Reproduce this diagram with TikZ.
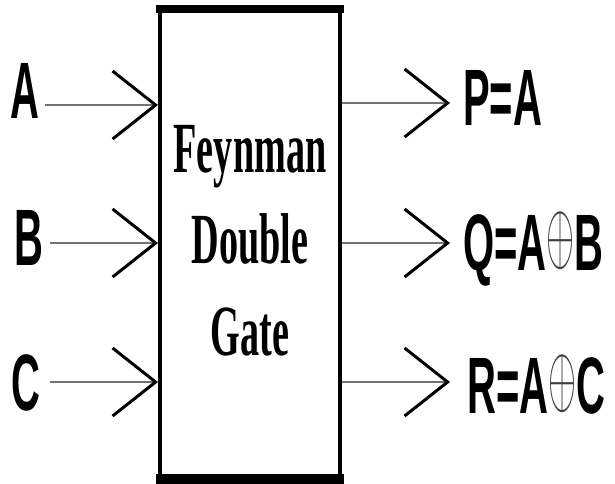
\documentclass[tikz,border=0pt]{standalone}
\usepackage{fontspec}
\usepackage{graphicx}
\usetikzlibrary{arrows.meta}
\newfontfamily\lblfont[FakeStretch=0.5]{Liberation Sans}
\newfontfamily\gatefont[FakeStretch=0.53]{Liberation Serif}
\newcommand{\xorsym}{\raisebox{\depth}{\textcolor{black!75}{\resizebox*{28pt}{58pt}{$\oplus$}}}}
\begin{document}
\begin{tikzpicture}[x=1pt,y=-1pt,
  lbl/.style={inner sep=0pt, anchor=base west, font=\lblfont\bfseries\fontsize{80}{96}\selectfont},
  gtxt/.style={inner sep=0pt, anchor=base, font=\gatefont\bfseries\fontsize{72}{92}\selectfont},
  wire/.style={draw=black!55, line width=1.6pt,
    -{Straight Barb[length=43pt,width=68pt,line width=3pt,color=black]}},
  gatebox/.style={draw, line width=4pt, minimum width=180pt, minimum height=465pt, inner sep=0pt}]
\useasboundingbox (0,0) rectangle (615,483);
% gate
\node[gatebox] (box) at (250,243.5) {};
\draw[line width=8pt] ([xshift=-2pt]box.north west) -- ([xshift=2pt]box.north east);
\draw[line width=10pt] ([xshift=-2pt,yshift=-0.5pt]box.south west) -- ([xshift=2pt,yshift=-0.5pt]box.south east);
\node[gtxt] (g1) at (250,172) {Feynman};
\node[gtxt] (g2) at (250,263) {Double};
\node[gtxt] (g3) at (250,355) {Gate};
% inputs
\node[lbl] (la) at (10,118) {A};
\node[lbl] (lb) at (14,265) {B};
\node[lbl] (lc) at (11,410) {C};
\coordinate (ia) at (45,105);
\coordinate (ib) at (50,243);
\coordinate (ic) at (50,382);
\draw[wire] (ia) -- (ia -| box.west);
\draw[wire] (ib) -- (ib -| box.west);
\draw[wire] (ic) -- (ic -| box.west);
% outputs
\coordinate (op) at (450,103);
\coordinate (oq) at (450,243);
\coordinate (or) at (450,382);
\draw[wire] (op -| box.east) -- (op);
\draw[wire] (oq -| box.east) -- (oq);
\draw[wire] (or -| box.east) -- (or);
\node[lbl] (lp) at (463,125) {P=A};
\node[lbl] (lq) at (463,270) {Q=A\xorsym B};
\node[lbl] (lr) at (467,413) {R=A\xorsym C};
\end{tikzpicture}
\end{document}
